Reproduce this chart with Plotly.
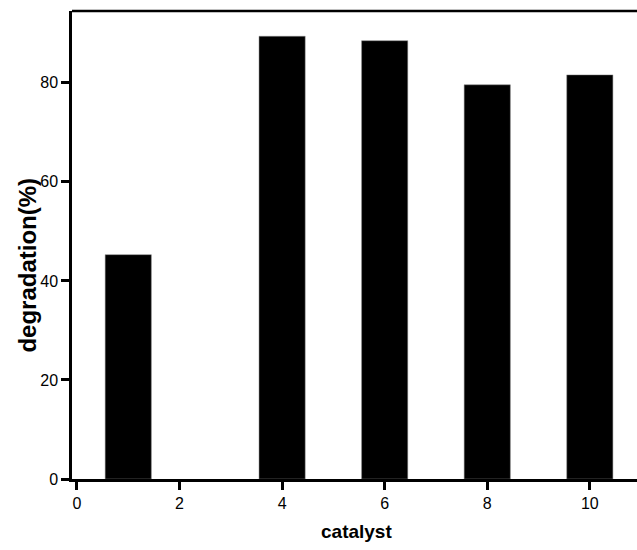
import plotly.graph_objects as go

catalyst = [1, 4, 6, 8, 10]
degradation = [45.3, 89.4, 88.5, 79.6, 81.6]
x_ticks = [0, 2, 4, 6, 8, 10]
y_ticks = [0, 20, 40, 60, 80]

fig = go.Figure(go.Bar(
    x=catalyst, y=degradation, width=0.9,
    marker=dict(color="black", line=dict(color="#888888", width=0.5)),
))

axis_common = dict(
    showline=True, linecolor="black", linewidth=2.5,
    ticks="outside", ticklen=8, tickwidth=2.5, tickcolor="black",
    showgrid=False, zeroline=False,
    tickfont=dict(family="Liberation Sans, Arial", size=16, color="black"),
)

fig.update_layout(
    width=637, height=550,
    margin=dict(l=72, r=0, t=11, b=71),
    plot_bgcolor="white", paper_bgcolor="white",
    showlegend=False,
    xaxis=dict(range=[-0.097, 10.92], tickvals=x_ticks, **axis_common),
    yaxis=dict(range=[0, 94.5], tickvals=y_ticks, **axis_common),
    shapes=[dict(type="line", xref="paper", yref="paper", x0=0, x1=1, y0=1, y1=1,
                 line=dict(color="black", width=2.5))],
    annotations=[
        dict(text="<b>catalyst</b>", xref="paper", yref="paper", x=0.504, y=-0.113,
             showarrow=False, xanchor="center", yanchor="middle",
             font=dict(family="Liberation Sans, Arial", size=19, color="black")),
        dict(text="<b>degradation(%)</b>", xref="paper", yref="paper", x=-0.078, y=0.458,
             showarrow=False, xanchor="center", yanchor="middle", textangle=-90,
             font=dict(family="Liberation Sans, Arial", size=24, color="black")),
    ],
)

fig.write_html("out.html")
